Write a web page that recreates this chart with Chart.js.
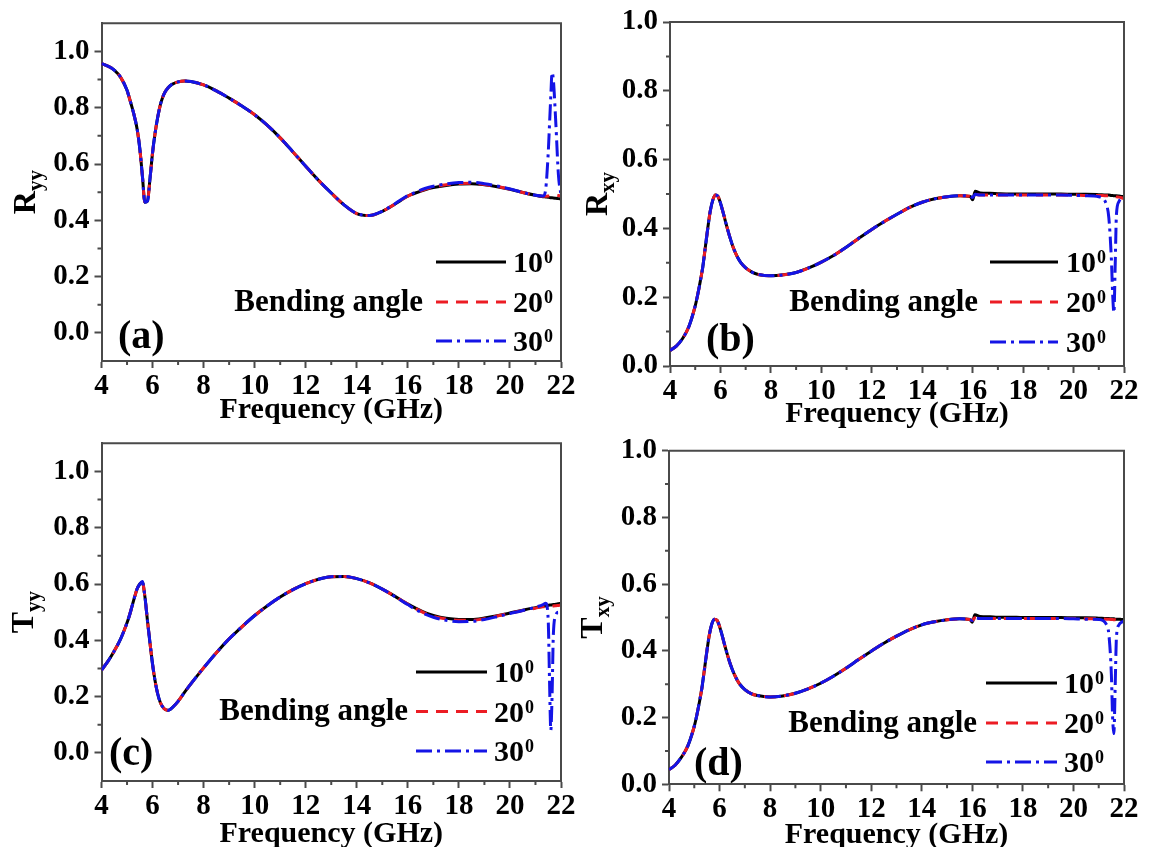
<!DOCTYPE html>
<html>
<head>
<meta charset="utf-8">
<title>Bending angle</title>
<script src="https://cdn.jsdelivr.net/npm/chart.js@4.4.1/dist/chart.umd.min.js"></script>
<style>
  html, body { margin: 0; padding: 0; background: #fff; }
  #wrap { position: relative; width: 1155px; height: 847px; overflow: hidden; }
  #wrap canvas { position: absolute; }
</style>
</head>
<body>
<div id="wrap">
  <canvas id="chartA" width="578" height="432" style="left:0;top:0"></canvas>
  <canvas id="chartB" width="577" height="432" style="left:578px;top:0"></canvas>
  <canvas id="chartC" width="578" height="424" style="left:0;top:423px"></canvas>
  <canvas id="chartD" width="577" height="424" style="left:578px;top:423px"></canvas>
</div>
<script>
// Frequency samples (GHz), shared by all four panels
const freq = [4.0, 4.25, 4.5, 4.75, 5.0, 5.1, 5.2, 5.3, 5.4, 5.5, 5.6, 5.7, 5.8, 5.9, 6.0, 6.1, 6.2, 6.3, 6.4, 6.5,
  6.6, 6.7, 6.8, 7.0, 7.25, 7.5, 8.0, 8.5, 9.0, 9.5, 10.0, 10.5, 11.0, 11.5, 12.0, 12.5, 13.0, 13.5, 14.0, 14.5,
  15.0, 15.5, 15.9, 16.0, 16.1, 16.3, 16.7, 17.0, 17.5, 18.0, 18.5, 19.0, 19.5, 20.0, 20.5, 21.0, 21.3, 21.4, 21.5, 21.55,
  21.6, 21.65, 21.7, 21.8, 21.9, 22.0];

// (a) Ryy
const ryy10 = [0.957, 0.948, 0.934, 0.908, 0.862, 0.832, 0.800, 0.765, 0.722, 0.655, 0.560, 0.464, 0.468, 0.548, 0.640, 0.710, 0.765, 0.808, 0.838, 0.858,
  0.870, 0.879, 0.885, 0.892, 0.895, 0.893, 0.881, 0.860, 0.834, 0.806, 0.775, 0.737, 0.693, 0.643, 0.592, 0.542, 0.497, 0.455, 0.424, 0.417,
  0.432, 0.458, 0.481, 0.486, 0.490, 0.497, 0.509, 0.516, 0.524, 0.529, 0.530, 0.526, 0.519, 0.510, 0.499, 0.489, 0.484, 0.483, 0.482, 0.481,
  0.480, 0.480, 0.479, 0.478, 0.477, 0.476];
const ryy20 = [0.957, 0.948, 0.934, 0.908, 0.862, 0.832, 0.800, 0.765, 0.722, 0.655, 0.560, 0.464, 0.468, 0.548, 0.640, 0.710, 0.765, 0.808, 0.838, 0.858,
  0.870, 0.879, 0.885, 0.892, 0.895, 0.893, 0.881, 0.860, 0.834, 0.806, 0.775, 0.737, 0.693, 0.643, 0.592, 0.542, 0.497, 0.455, 0.424, 0.417,
  0.432, 0.458, 0.481, 0.486, 0.490, 0.498, 0.511, 0.518, 0.526, 0.531, 0.532, 0.527, 0.520, 0.510, 0.499, 0.489, 0.485, 0.485, 0.486, 0.487,
  0.488, 0.489, 0.489, 0.489, 0.488, 0.487];
const ryy30 = [0.957, 0.948, 0.934, 0.908, 0.862, 0.832, 0.800, 0.765, 0.722, 0.655, 0.560, 0.464, 0.468, 0.548, 0.640, 0.710, 0.765, 0.808, 0.838, 0.858,
  0.870, 0.879, 0.885, 0.892, 0.895, 0.893, 0.881, 0.860, 0.834, 0.806, 0.775, 0.737, 0.693, 0.643, 0.592, 0.542, 0.497, 0.455, 0.424, 0.417,
  0.432, 0.459, 0.483, 0.488, 0.492, 0.500, 0.514, 0.521, 0.529, 0.534, 0.535, 0.530, 0.522, 0.511, 0.499, 0.489, 0.486, 0.510, 0.640, 0.740,
  0.840, 0.925, 0.900, 0.740, 0.560, 0.490];

// (b) Rxy
const rxy10 = [0.045, 0.058, 0.080, 0.115, 0.175, 0.208, 0.246, 0.288, 0.345, 0.402, 0.452, 0.483, 0.497, 0.493, 0.474, 0.448, 0.420, 0.393, 0.368, 0.346,
  0.328, 0.313, 0.301, 0.285, 0.273, 0.266, 0.262, 0.265, 0.272, 0.285, 0.302, 0.322, 0.346, 0.372, 0.397, 0.420, 0.441, 0.461, 0.476, 0.486,
  0.492, 0.495, 0.493, 0.483, 0.508, 0.503, 0.502, 0.501, 0.500, 0.500, 0.500, 0.500, 0.500, 0.499, 0.499, 0.498, 0.497, 0.497, 0.496, 0.496,
  0.495, 0.495, 0.495, 0.494, 0.493, 0.492];
const rxy20 = [0.045, 0.058, 0.080, 0.115, 0.175, 0.208, 0.246, 0.288, 0.345, 0.402, 0.452, 0.483, 0.497, 0.493, 0.474, 0.448, 0.420, 0.393, 0.368, 0.346,
  0.328, 0.313, 0.301, 0.285, 0.273, 0.266, 0.262, 0.265, 0.272, 0.285, 0.302, 0.322, 0.346, 0.372, 0.397, 0.420, 0.441, 0.461, 0.476, 0.486,
  0.492, 0.495, 0.493, 0.490, 0.499, 0.497, 0.497, 0.497, 0.497, 0.497, 0.497, 0.497, 0.497, 0.497, 0.496, 0.496, 0.495, 0.495, 0.494, 0.494,
  0.493, 0.493, 0.492, 0.491, 0.489, 0.486];
const rxy30 = [0.045, 0.058, 0.080, 0.115, 0.175, 0.208, 0.246, 0.288, 0.345, 0.402, 0.452, 0.483, 0.497, 0.493, 0.474, 0.448, 0.420, 0.393, 0.368, 0.346,
  0.328, 0.313, 0.301, 0.285, 0.273, 0.266, 0.262, 0.265, 0.272, 0.285, 0.302, 0.322, 0.346, 0.372, 0.397, 0.420, 0.441, 0.461, 0.476, 0.486,
  0.492, 0.495, 0.493, 0.490, 0.499, 0.497, 0.497, 0.497, 0.497, 0.497, 0.497, 0.497, 0.497, 0.496, 0.495, 0.492, 0.470, 0.430, 0.310, 0.210,
  0.155, 0.290, 0.440, 0.478, 0.487, 0.490];

// (c) Tyy
const tyy10 = [0.294, 0.325, 0.362, 0.405, 0.462, 0.490, 0.522, 0.555, 0.584, 0.600, 0.607, 0.555, 0.470, 0.390, 0.315, 0.255, 0.210, 0.180, 0.163, 0.154,
  0.151, 0.155, 0.163, 0.183, 0.215, 0.245, 0.302, 0.356, 0.405, 0.448, 0.488, 0.523, 0.554, 0.580, 0.601, 0.617, 0.626, 0.627, 0.619, 0.604,
  0.582, 0.556, 0.534, 0.529, 0.524, 0.514, 0.497, 0.488, 0.478, 0.474, 0.474, 0.479, 0.487, 0.497, 0.507, 0.516, 0.521, 0.522, 0.524, 0.525,
  0.525, 0.526, 0.527, 0.528, 0.530, 0.531];
const tyy20 = [0.294, 0.325, 0.362, 0.405, 0.462, 0.490, 0.522, 0.555, 0.584, 0.600, 0.607, 0.555, 0.470, 0.390, 0.315, 0.255, 0.210, 0.180, 0.163, 0.154,
  0.151, 0.155, 0.163, 0.183, 0.215, 0.245, 0.302, 0.356, 0.405, 0.448, 0.488, 0.523, 0.554, 0.580, 0.601, 0.617, 0.626, 0.627, 0.619, 0.604,
  0.582, 0.556, 0.534, 0.529, 0.524, 0.513, 0.495, 0.485, 0.476, 0.471, 0.471, 0.477, 0.486, 0.496, 0.506, 0.514, 0.519, 0.519, 0.520, 0.520,
  0.521, 0.521, 0.522, 0.523, 0.524, 0.525];
const tyy30 = [0.294, 0.325, 0.362, 0.405, 0.462, 0.490, 0.522, 0.555, 0.584, 0.600, 0.609, 0.555, 0.470, 0.390, 0.315, 0.255, 0.210, 0.180, 0.163, 0.154,
  0.151, 0.155, 0.163, 0.183, 0.215, 0.245, 0.302, 0.356, 0.405, 0.448, 0.488, 0.523, 0.554, 0.580, 0.601, 0.617, 0.626, 0.627, 0.619, 0.604,
  0.582, 0.555, 0.532, 0.527, 0.521, 0.510, 0.492, 0.482, 0.471, 0.466, 0.467, 0.474, 0.484, 0.495, 0.506, 0.518, 0.527, 0.532, 0.470, 0.260,
  0.080, 0.200, 0.420, 0.490, 0.500, 0.500];

// (d) Txy
const txy10 = [0.044, 0.058, 0.082, 0.116, 0.174, 0.207, 0.245, 0.288, 0.343, 0.400, 0.450, 0.482, 0.495, 0.492, 0.473, 0.447, 0.418, 0.391, 0.366, 0.345,
  0.327, 0.312, 0.300, 0.284, 0.272, 0.266, 0.262, 0.265, 0.273, 0.286, 0.303, 0.324, 0.348, 0.374, 0.399, 0.423, 0.444, 0.463, 0.478, 0.487,
  0.493, 0.496, 0.494, 0.486, 0.508, 0.503, 0.502, 0.501, 0.501, 0.500, 0.500, 0.500, 0.500, 0.499, 0.499, 0.498, 0.497, 0.497, 0.496, 0.496,
  0.496, 0.495, 0.495, 0.495, 0.494, 0.494];
const txy20 = [0.044, 0.058, 0.082, 0.116, 0.174, 0.207, 0.245, 0.288, 0.343, 0.400, 0.450, 0.482, 0.495, 0.492, 0.473, 0.447, 0.418, 0.391, 0.366, 0.345,
  0.327, 0.312, 0.300, 0.284, 0.272, 0.266, 0.262, 0.265, 0.273, 0.286, 0.303, 0.324, 0.348, 0.374, 0.399, 0.423, 0.444, 0.463, 0.478, 0.487,
  0.493, 0.496, 0.494, 0.491, 0.499, 0.497, 0.497, 0.497, 0.497, 0.497, 0.497, 0.497, 0.497, 0.497, 0.496, 0.496, 0.495, 0.495, 0.494, 0.494,
  0.493, 0.493, 0.492, 0.491, 0.489, 0.487];
const txy30 = [0.044, 0.058, 0.082, 0.116, 0.174, 0.207, 0.245, 0.288, 0.343, 0.400, 0.450, 0.482, 0.495, 0.492, 0.473, 0.447, 0.418, 0.391, 0.366, 0.345,
  0.327, 0.312, 0.300, 0.284, 0.272, 0.266, 0.262, 0.265, 0.273, 0.286, 0.303, 0.324, 0.348, 0.374, 0.399, 0.423, 0.444, 0.463, 0.478, 0.487,
  0.493, 0.496, 0.494, 0.491, 0.499, 0.497, 0.497, 0.497, 0.497, 0.497, 0.497, 0.497, 0.497, 0.496, 0.495, 0.494, 0.480, 0.450, 0.330, 0.200,
  0.152, 0.290, 0.440, 0.478, 0.486, 0.489];

const xTicks = [4, 6, 8, 10, 12, 14, 16, 18, 20, 22];
const xMinorTicks = [5, 7, 9, 11, 13, 15, 17, 19, 21];
const yTicks = [0.0, 0.2, 0.4, 0.6, 0.8, 1.0];
const yMinorTicks = [0.1, 0.3, 0.5, 0.7, 0.9];
const angles = ['10', '20', '30'];
const legendTitle = 'Bending angle';
const xTitle = 'Frequency (GHz)';

const SERIF = '"Liberation Serif", "Times New Roman", serif';
const AXIS_COLOR = '#4a4a4a';
const lineStyles = [
  { color: '#000000', dash: [] },
  { color: '#ec1c24', dash: [12, 8] },
  { color: '#1414e6', dash: [16, 5, 3, 5] }
];

// page-pixel layout of each panel
const panels = [
  { id: 'chartA', tag: '(a)', yMain: 'R', ySub: 'yy', yMin: -0.1, yMax: 1.1, series: [ryy10, ryy20, ryy30],
    left: 0, top: 0, width: 578, height: 432,
    area: { left: 101.5, top: 23.3, right: 561, bottom: 361 }, titleBase: 418, yTitleX: 35,
    legend: { x0: 436, x1: 506, rows: [262, 302, 341], labelX: 513, textRight: 423, textBase: 311 },
    tagX: 118, tagBase: 348 },
  { id: 'chartB', tag: '(b)', yMain: 'R', ySub: 'xy', yMin: 0, yMax: 1.0, series: [rxy10, rxy20, rxy30],
    left: 578, top: 0, width: 577, height: 432,
    area: { left: 670, top: 22, right: 1124, bottom: 366 }, titleBase: 422, yTitleX: 607,
    legend: { x0: 990, x1: 1058, rows: [262, 302, 342], labelX: 1066, textRight: 978, textBase: 311 },
    tagX: 706, tagBase: 351 },
  { id: 'chartC', tag: '(c)', yMain: 'T', ySub: 'yy', yMin: -0.1, yMax: 1.1, series: [tyy10, tyy20, tyy30],
    left: 0, top: 423, width: 578, height: 424,
    area: { left: 101.5, top: 443.3, right: 561, bottom: 781 }, titleBase: 842, yTitleX: 33,
    legend: { x0: 416, x1: 487, rows: [672, 711.5, 751], labelX: 494, textRight: 408, textBase: 720 },
    tagX: 109, tagBase: 765 },
  { id: 'chartD', tag: '(d)', yMain: 'T', ySub: 'xy', yMin: 0, yMax: 1.0, series: [txy10, txy20, txy30],
    left: 578, top: 423, width: 577, height: 424,
    area: { left: 669, top: 450.7, right: 1124, bottom: 784.3 }, titleBase: 843, yTitleX: 602,
    legend: { x0: 986, x1: 1057, rows: [683, 723, 762], labelX: 1064, textRight: 977, textBase: 732 },
    tagX: 694, tagBase: 775 }
];

// frame, minor ticks, axis titles, legend and panel tag
const decorPlugin = {
  id: 'decor',
  afterDraw(chart, args, p) {
    const { ctx, chartArea: a } = chart;
    const x = chart.scales.x, y = chart.scales.y;
    const ox = p.left, oy = p.top;
    ctx.save();

    ctx.strokeStyle = AXIS_COLOR;
    ctx.lineWidth = 2;
    ctx.beginPath();
    ctx.moveTo(a.left, a.top);
    ctx.lineTo(a.right, a.top);
    ctx.lineTo(a.right, a.bottom);
    ctx.stroke();

    ctx.beginPath();
    xMinorTicks.forEach(v => {
      const px = x.getPixelForValue(v);
      ctx.moveTo(px, a.bottom);
      ctx.lineTo(px, a.bottom + 4);
    });
    yMinorTicks.forEach(v => {
      const py = y.getPixelForValue(v);
      ctx.moveTo(a.left, py);
      ctx.lineTo(a.left - 4, py);
    });
    ctx.stroke();

    ctx.fillStyle = '#000';
    ctx.textBaseline = 'alphabetic';

    // x title
    ctx.textAlign = 'center';
    ctx.font = `bold 30px ${SERIF}`;
    ctx.fillText(xTitle, (a.left + a.right) / 2, p.titleBase - oy);

    // rotated y title with subscript
    ctx.save();
    ctx.translate(p.yTitleX - ox, (a.top + a.bottom) / 2);
    ctx.rotate(-Math.PI / 2);
    ctx.textAlign = 'left';
    ctx.font = `bold 32px ${SERIF}`;
    const wMain = ctx.measureText(p.yMain).width;
    ctx.font = `bold 21px ${SERIF}`;
    const wSub = ctx.measureText(p.ySub).width;
    const start = -(wMain + wSub) / 2;
    ctx.font = `bold 32px ${SERIF}`;
    ctx.fillText(p.yMain, start, 0);
    ctx.font = `bold 21px ${SERIF}`;
    ctx.fillText(p.ySub, start + wMain, 7);
    ctx.restore();

    // legend
    const L = p.legend;
    lineStyles.forEach((s, i) => {
      const ly = L.rows[i] - oy;
      ctx.strokeStyle = s.color;
      ctx.lineWidth = 3;
      ctx.setLineDash(s.dash);
      ctx.beginPath();
      ctx.moveTo(L.x0 - ox, ly);
      ctx.lineTo(L.x1 - ox, ly);
      ctx.stroke();
      ctx.setLineDash([]);
      ctx.textAlign = 'left';
      ctx.font = `bold 30px ${SERIF}`;
      ctx.fillText(angles[i], L.labelX - ox, ly + 10);
      const w = ctx.measureText(angles[i]).width;
      ctx.font = `bold 18px ${SERIF}`;
      ctx.fillText('0', L.labelX - ox + w + 1, ly + 1);
    });
    ctx.textAlign = 'right';
    ctx.font = `bold 31px ${SERIF}`;
    ctx.fillText(legendTitle, L.textRight - ox, L.textBase - oy);

    ctx.textAlign = 'left';
    ctx.font = `bold 40px ${SERIF}`;
    ctx.fillText(p.tag, p.tagX - ox, p.tagBase - oy);
    ctx.restore();
  }
};

function makeChart(p) {
  const datasets = p.series.map((values, i) => ({
    label: angles[i] + '\u00b0',
    data: freq.map((f, k) => ({ x: f, y: values[k] })),
    borderColor: lineStyles[i].color,
    borderDash: lineStyles[i].dash,
    borderWidth: 3,
    pointRadius: 0,
    fill: false,
    cubicInterpolationMode: 'monotone',
    order: 3 - i
  }));
  const tickFont = { family: SERIF, weight: 'bold', size: 29 };

  return new Chart(document.getElementById(p.id), {
    type: 'line',
    data: { datasets },
    plugins: [decorPlugin],
    options: {
      responsive: false,
      animation: false,
      events: [],
      layout: {
        padding: { left: 0, top: p.area.top - p.top, right: p.left + p.width - p.area.right, bottom: 0 }
      },
      plugins: { legend: { display: false }, tooltip: { enabled: false }, decor: p },
      scales: {
        x: {
          type: 'linear', min: 4, max: 22,
          afterBuildTicks: s => { s.ticks = xTicks.map(v => ({ value: v })); },
          afterFit: s => { s.height = p.top + p.height - p.area.bottom; s.paddingLeft = 0; s.paddingRight = 0; },
          border: { display: true, color: AXIS_COLOR, width: 2 },
          grid: { drawOnChartArea: false, drawTicks: true, tickLength: 7, tickColor: AXIS_COLOR, tickWidth: 2 },
          ticks: { color: '#000', padding: 1, maxRotation: 0, autoSkip: false, font: tickFont },
          title: { display: false }
        },
        y: {
          type: 'linear', min: p.yMin, max: p.yMax,
          afterBuildTicks: s => { s.ticks = yTicks.map(v => ({ value: v })); },
          afterFit: s => { s.width = p.area.left - p.left; s.paddingTop = 0; s.paddingBottom = 0; },
          border: { display: true, color: AXIS_COLOR, width: 2 },
          grid: { drawOnChartArea: false, drawTicks: true, tickLength: 7, tickColor: AXIS_COLOR, tickWidth: 2 },
          ticks: { color: '#000', padding: 5, font: tickFont, callback: v => Number(v).toFixed(1) }
        }
      }
    }
  });
}

panels.forEach(makeChart);
</script>
</body>
</html>
